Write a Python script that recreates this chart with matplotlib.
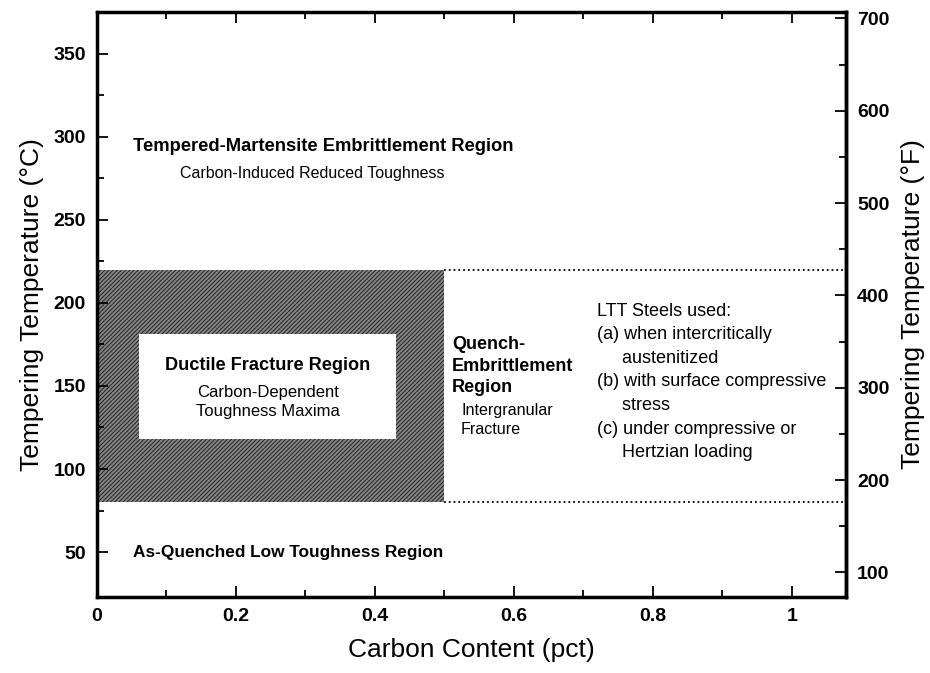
import matplotlib as mtp
mtp.use("Agg")
import matplotlib.pyplot as plt
from matplotlib.patches import Rectangle

plt.rcParams['font.family'] = ['Liberation Sans', 'DejaVu Sans']
plt.rcParams['hatch.linewidth'] = 0.7

# region boundaries (carbon pct, deg C)
quench_c_max = 0.5
temp_low, temp_high = 80, 220
ductile_box = [0.06, 118, 0.43, 181]   # x0, y0, x1, y1

x_ticks = [0, 0.2, 0.4, 0.6, 0.8, 1]
x_tick_labels = ['0', '0.2', '0.4', '0.6', '0.8', '1']
c_ticks = [50, 100, 150, 200, 250, 300, 350]
f_ticks = [100, 200, 300, 400, 500, 600, 700]

quench_lines = ["Quench-", "Embrittlement", "Region"]
quench_sub = ["Intergranular", "Fracture"]
ltt_lines = ["LTT Steels used:", "(a) when intercritically", "     austenitized",
             "(b) with surface compressive", "     stress",
             "(c) under compressive or", "     Hertzian loading"]


def c_to_f(c):
    return c * 1.8 + 32


def f_to_c(f):
    return (f - 32) / 1.8


fig = plt.figure(figsize=(9.3, 6.73), dpi=100)
ax = fig.add_axes([97 / 930, 76 / 673, 749 / 930, 585 / 673])
ax.set_xlim(0, 1.078)
ax.set_ylim(23, 374.6)

# shaded quench-embrittlement / ductile band
ax.add_patch(Rectangle((0, temp_low), quench_c_max, temp_high - temp_low,
                       facecolor='#858585', edgecolor='#222222', hatch='////////',
                       linewidth=0, zorder=1))
ax.add_patch(Rectangle((ductile_box[0], ductile_box[1]),
                       ductile_box[2] - ductile_box[0], ductile_box[3] - ductile_box[1],
                       facecolor='white', edgecolor='none', zorder=2))
ax.plot([quench_c_max, 1.078], [temp_high, temp_high], ':', color='black', lw=1.3)
ax.plot([quench_c_max, 1.078], [temp_low, temp_low], ':', color='black', lw=1.3)

# region labels
ax.text(0.052, 294, "Tempered-Martensite Embrittlement Region", fontsize=13.2,
        fontweight='bold', va='center')
ax.text(0.12, 278, "Carbon-Induced Reduced Toughness", fontsize=11.5, va='center')
ax.text(0.246, 162, "Ductile Fracture Region", fontsize=13.1, fontweight='bold',
        ha='center', va='center', zorder=3)
ax.text(0.246, 146, "Carbon-Dependent", fontsize=12, ha='center', va='center', zorder=3)
ax.text(0.246, 134.5, "Toughness Maxima", fontsize=12, ha='center', va='center', zorder=3)
for i, line in enumerate(quench_lines):
    ax.text(0.511, 175 - i * 13.1, line, fontsize=13, fontweight='bold', va='center')
for i, line in enumerate(quench_sub):
    ax.text(0.524, 135 - i * 11.5, line, fontsize=11.6, va='center')
for i, line in enumerate(ltt_lines):
    ax.text(0.719, 195 - i * 14.2, line, fontsize=13, va='center')
ax.text(0.052, 50, "As-Quenched Low Toughness Region", fontsize=12.4,
        fontweight='bold', va='center')

# axes styling
ax.set_xticks(x_ticks)
ax.set_xticklabels(x_tick_labels)
ax.set_xticks([0.1, 0.3, 0.5, 0.7, 0.9], minor=True)
ax.set_yticks(c_ticks)
ax.set_yticks([75, 125, 175, 225, 275, 325, 375], minor=True)
ax.tick_params(which='both', direction='in', top=True, labelsize=14, width=1.3)
ax.tick_params(which='major', length=8, pad=8)
ax.tick_params(which='minor', length=5)
for lbl in ax.get_xticklabels() + ax.get_yticklabels():
    lbl.set_fontweight('bold')
for sp in ax.spines.values():
    sp.set_linewidth(2.5)

ax.set_xlabel("Carbon Content (pct)", fontsize=19, labelpad=9)
ax.set_ylabel("Tempering Temperature (°C)", fontsize=19, labelpad=7)

ax2 = ax.secondary_yaxis('right', functions=(c_to_f, f_to_c))
ax2.set_yticks(f_ticks)
ax2.set_yticks([150, 250, 350, 450, 550, 650], minor=True)
ax2.tick_params(which='both', direction='in', labelsize=14, width=1.3)
ax2.tick_params(which='major', length=8, pad=8)
ax2.tick_params(which='minor', length=5)
for lbl in ax2.get_yticklabels():
    lbl.set_fontweight('bold')
ax2.spines['right'].set_linewidth(2.5)
ax2.set_ylabel("Tempering Temperature (°F)", fontsize=19, labelpad=8)

fig.savefig('out.png', dpi=100)
